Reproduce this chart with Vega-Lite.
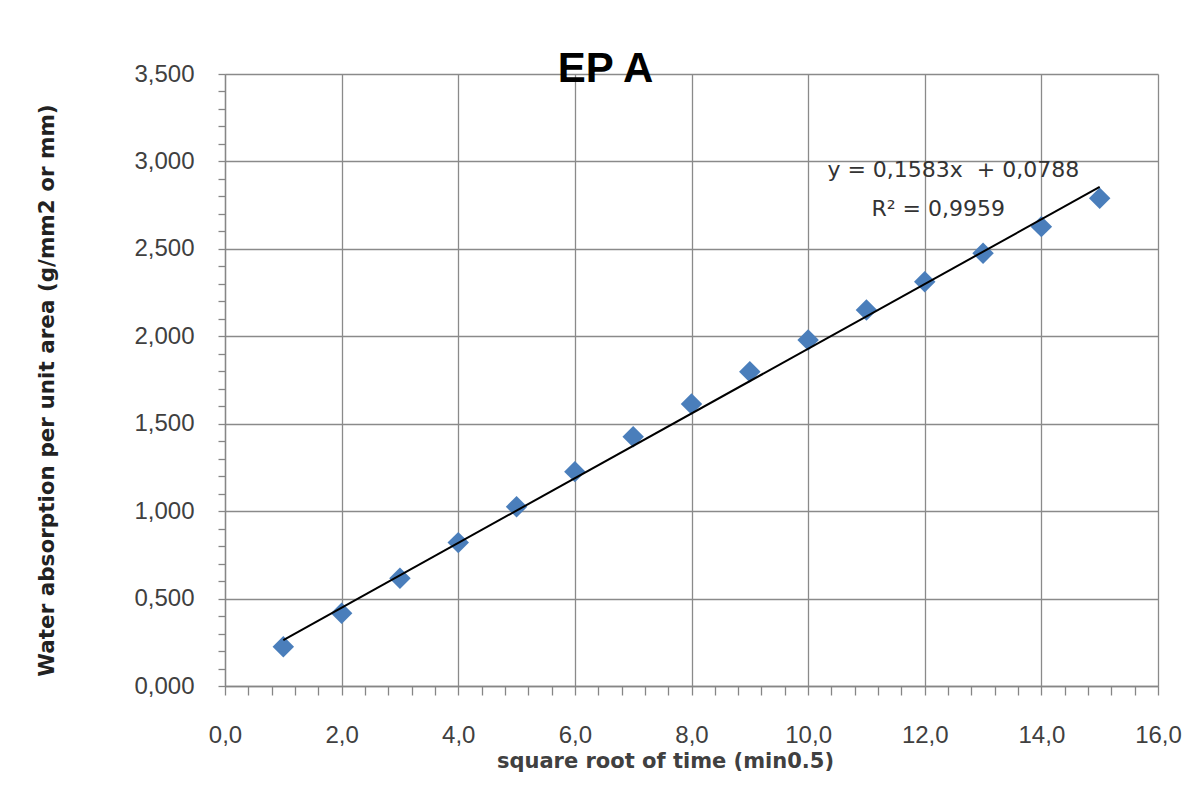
{
  "$schema": "https://vega.github.io/schema/vega-lite/v6.json",
  "autosize": "none",
  "width": 933,
  "height": 612,
  "padding": {"left": 225, "top": 74, "right": 40, "bottom": 111},
  "background": "white",
  "config": {
    "view": {"stroke": null},
    "font": "Liberation Sans"
  },
  "title": {
    "text": "EP A",
    "font": "Liberation Sans",
    "fontSize": 42,
    "fontWeight": "bold",
    "color": "#000000",
    "anchor": "middle",
    "frame": "group",
    "dx": -86,
    "dy": 51,
    "baseline": "alphabetic",
    "offset": -11
  },
  "datasets": {
    "points": [
      {"t": 1, "w": 0.225},
      {"t": 2, "w": 0.416},
      {"t": 3, "w": 0.616},
      {"t": 4, "w": 0.820},
      {"t": 5, "w": 1.025},
      {"t": 6, "w": 1.226},
      {"t": 7, "w": 1.426},
      {"t": 8, "w": 1.613},
      {"t": 9, "w": 1.797},
      {"t": 10, "w": 1.979},
      {"t": 11, "w": 2.150},
      {"t": 12, "w": 2.312},
      {"t": 13, "w": 2.475},
      {"t": 14, "w": 2.627},
      {"t": 15, "w": 2.789}
    ],
    "trend": [
      {"t": 1, "w": 0.263},
      {"t": 15, "w": 2.854}
    ]
  },
  "layer": [
    {
      "data": {"name": "points"},
      "mark": {"type": "point", "shape": "diamond", "filled": true, "size": 460, "color": "#4a7ebb", "opacity": 1},
      "encoding": {
        "x": {
          "field": "t", "type": "quantitative",
          "scale": {"domain": [0, 16], "nice": false, "zero": true},
          "axis": {
            "values": [0,0.4,0.8,1.2,1.6,2,2.4,2.8,3.2,3.6,4,4.4,4.8,5.2,5.6,6,6.4,6.8,7.2,7.6,8,8.4,8.8,9.2,9.6,10,10.4,10.8,11.2,11.6,12,12.4,12.8,13.2,13.6,14,14.4,14.8,15.2,15.6,16],
            "tickCount": 200,
            "labelExpr": "abs(datum.value/2 - round(datum.value/2)) < 0.01 ? replace(format(datum.value, '.1f'), '.', ',') : ''",
            "labelOverlap": false,
            "labelFlush": false,
            "labelFont": "Liberation Sans",
            "labelFontSize": 24,
            "labelColor": "#404040",
            "labelPadding": 28,
            "tickSize": 9,
            "tickColor": "#868686",
            "tickWidth": 1.3,
            "domainColor": "#868686",
            "domainWidth": 1.3,
            "grid": true,
            "gridColor": "#8a8a8a",
            "gridWidth": 1.3,
            "gridOpacity": {"condition": {"test": "abs(datum.value/2 - round(datum.value/2)) < 0.01", "value": 1}, "value": 0},
            "title": "square root of time (min0.5)",
            "titleFont": "DejaVu Sans",
            "titleFontSize": 21,
            "titleFontWeight": "bold",
            "titleColor": "#404040",
            "titlePadding": 3,
            "titleAnchor": "middle",
            "titleX": 440
          }
        },
        "y": {
          "field": "w", "type": "quantitative",
          "scale": {"domain": [0, 3.5], "nice": false, "zero": true},
          "axis": {
            "values": [0,0.1,0.2,0.3,0.4,0.5,0.6,0.7,0.8,0.9,1,1.1,1.2,1.3,1.4,1.5,1.6,1.7,1.8,1.9,2,2.1,2.2,2.3,2.4,2.5,2.6,2.7,2.8,2.9,3,3.1,3.2,3.3,3.4,3.5],
            "tickCount": 200,
            "labelExpr": "abs(datum.value*2 - round(datum.value*2)) < 0.01 ? replace(format(datum.value, '.3f'), '.', ',') : ''",
            "labelOverlap": false,
            "labelFlush": false,
            "labelFont": "Liberation Sans",
            "labelFontSize": 24,
            "labelColor": "#404040",
            "labelPadding": 24,
            "tickSize": 7,
            "tickColor": "#868686",
            "tickWidth": 1.3,
            "domainColor": "#868686",
            "domainWidth": 1.3,
            "grid": true,
            "gridColor": "#8a8a8a",
            "gridWidth": 1.3,
            "gridOpacity": {"condition": {"test": "abs(datum.value*2 - round(datum.value*2)) < 0.01", "value": 1}, "value": 0},
            "title": "Water absorption per unit area  (g/mm2 or mm)",
            "titleFont": "DejaVu Sans",
            "titleFontSize": 21.5,
            "titleFontWeight": "bold",
            "titleColor": "#222222",
            "titlePadding": 75,
            "titleY": 316
          }
        }
      }
    },
    {
      "data": {"name": "trend"},
      "mark": {"type": "line", "color": "#000000", "strokeWidth": 2},
      "encoding": {
        "x": {"field": "t", "type": "quantitative"},
        "y": {"field": "w", "type": "quantitative"}
      }
    },
    {
      "data": {"values": [{"label": "y = 0,1583x \u00a0+ 0,0788"}]},
      "mark": {"type": "text", "font": "DejaVu Sans", "fontSize": 22, "color": "#333333", "align": "center", "baseline": "middle"},
      "encoding": {
        "x": {"datum": 12.49, "type": "quantitative"},
        "y": {"datum": 2.95, "type": "quantitative"},
        "text": {"field": "label"}
      }
    },
    {
      "data": {"values": [{"label": "R² = 0,9959"}]},
      "mark": {"type": "text", "font": "DejaVu Sans", "fontSize": 22, "color": "#333333", "align": "center", "baseline": "middle"},
      "encoding": {
        "x": {"datum": 12.23, "type": "quantitative"},
        "y": {"datum": 2.73, "type": "quantitative"},
        "text": {"field": "label"}
      }
    }
  ]
}
